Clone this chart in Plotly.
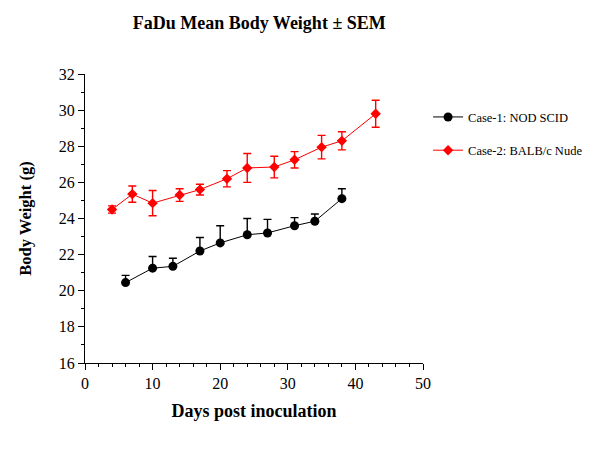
import plotly.graph_objects as go

days1 = [6, 10, 13, 17, 20, 24, 27, 31, 34, 38]
case1 = [20.45, 21.25, 21.35, 22.2, 22.65, 23.1, 23.2, 23.6, 23.85, 25.1]
sem1 = [0.4, 0.65, 0.45, 0.75, 0.95, 0.9, 0.75, 0.45, 0.4, 0.55]

days2 = [4, 7, 10, 14, 17, 21, 24, 28, 31, 35, 38, 43]
case2 = [24.5, 25.35, 24.85, 25.3, 25.6, 26.2, 26.8, 26.85, 27.25, 27.95, 28.3, 29.8]
sem2 = [0.2, 0.45, 0.7, 0.35, 0.3, 0.45, 0.8, 0.6, 0.45, 0.65, 0.5, 0.75]

font = "Liberation Serif, Times New Roman, serif"

fig = go.Figure()
fig.add_trace(go.Scatter(
    x=days1, y=case1, mode="lines+markers", name="Case-1: NOD SCID",
    legendgroup="a",
    line=dict(color="black", width=1),
    marker=dict(symbol="circle", size=9, color="black"),
    error_y=dict(type="data", symmetric=False, array=sem1, arrayminus=[0]*len(sem1),
                 color="black", thickness=1.4, width=4),
))
fig.add_trace(go.Scatter(
    x=days2, y=case2, mode="lines+markers", name="Case-2: BALB/c Nude",
    legendgroup="b",
    line=dict(color="#ff0000", width=1),
    marker=dict(symbol="diamond", size=8, color="#ff0000"),
    error_y=dict(type="data", array=sem2, color="#ff0000", thickness=1.4, width=4),
))

fig.update_layout(
    width=587, height=446,
    margin=dict(l=77, r=172, t=66, b=91, autoexpand=False),
    paper_bgcolor="white", plot_bgcolor="white",
    font=dict(family=font, color="black"),
    title=dict(text="<b>FaDu Mean Body Weight ± SEM</b>", x=0.428, xanchor="center",
               y=0.967, yanchor="middle", font=dict(size=18, family=font)),
    legend=dict(x=1.015, y=0.902, xanchor="left", yanchor="top",
                font=dict(size=12.5, family=font), tracegroupgap=14,
                bgcolor="rgba(0,0,0,0)", itemwidth=30),
    showlegend=True,
)
fig.update_xaxes(
    range=[0, 50], tickvals=[0, 10, 20, 30, 40, 50],
    showline=True, linecolor="black", linewidth=1, mirror=False,
    ticks="outside", ticklen=6, tickcolor="black", showgrid=False, zeroline=False,
    tickfont=dict(size=16, family=font),
    minor=dict(dtick=2, ticks="outside", ticklen=3, tickcolor="black"),
    title=dict(text="<b>Days post inoculation</b>", font=dict(size=18, family=font), standoff=13),
)
fig.update_yaxes(
    range=[16, 32], tickvals=[16, 18, 20, 22, 24, 26, 28, 30, 32],
    showline=True, linecolor="black", linewidth=1,
    ticks="outside", ticklen=6, tickcolor="black", showgrid=False, zeroline=False,
    tickfont=dict(size=16, family=font),
    minor=dict(dtick=1, ticks="outside", ticklen=3, tickcolor="black"),
    title=dict(text="<b>Body Weight (g)</b>", font=dict(size=16.5, family=font), standoff=23),
)

fig.write_html("out.html")
